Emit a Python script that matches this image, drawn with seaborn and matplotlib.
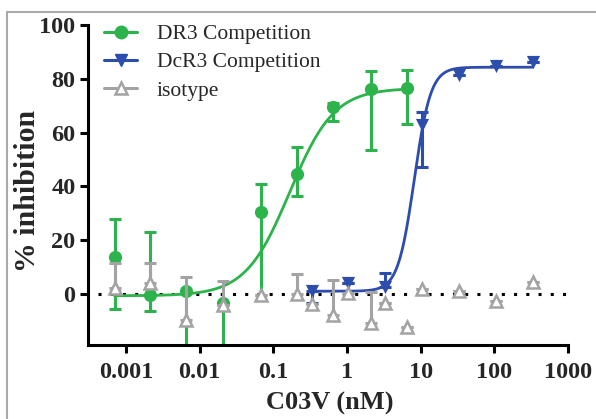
import numpy as np
import pandas as pd
import matplotlib
matplotlib.use("Agg")
import matplotlib.pyplot as plt
from matplotlib.lines import Line2D
import seaborn as sns

# ---------------- data ----------------
dr3_conc = [0.0007, 0.0021, 0.0066, 0.021, 0.068, 0.21, 0.65, 2.1, 6.5]
dr3_mean = [13.8, -0.4, 1.1, -3.4, 30.5, 44.5, 69.5, 76.3, 76.6]
dr3_err_lo = [19.4, 6.0, 25.0, 20.0, 32.7, 8.0, 5.2, 22.8, 13.4]
dr3_err_hi = [13.9, 23.6, 0.0, 0.0, 10.2, 10.1, 1.5, 6.7, 6.8]

dcr3_conc = [0.33, 1.04, 3.3, 10.4, 33, 104, 330]
dcr3_mean = [1.2, 4.0, 2.4, 62.8, 81.5, 84.9, 86.4]
dcr3_err_lo = [4.5, 0.0, 0.0, 15.7, 0.0, 0.0, 0.0]
dcr3_err_hi = [0.0, 0.0, 5.4, 4.9, 0.0, 0.0, 0.0]

iso_conc = [0.0007, 0.0021, 0.0066, 0.021, 0.068, 0.21, 0.33, 0.65, 1.04, 2.1,
            3.3, 6.5, 10.4, 33, 104, 330]
iso_mean = [2.2, 4.1, -9.7, -4.3, -0.5, -0.2, -3.6, -7.8, 0.4, -10.8,
            -3.4, -12.2, 1.9, 1.1, -2.6, 4.5]
iso_err_hi = [9.4, 7.5, 16.1, 9.2, 0.0, 7.7, 0.0, 13.0, 0.0, 11.5,
              0.0, 0.0, 0.0, 0.0, 0.0, 0.0]

# 4-parameter logistic fit parameters (bottom, top, EC50, Hill)
dr3_fit = dict(bottom=-0.7, top=76.5, ec50=0.167, hill=1.45, xmin=0.0007, xmax=6.5)
dcr3_fit = dict(bottom=1.0, top=84.3, ec50=8.2, hill=3.9, xmin=0.33, xmax=330)

xtick_vals = [0.001, 0.01, 0.1, 1, 10, 100, 1000]
xtick_labels = ["0.001", "0.01", "0.1", "1", "10", "100", "1000"]
ytick_vals = [0, 20, 40, 60, 80, 100]

legend_labels = ["DR3 Competition", "DcR3 Competition", "isotype"]

GREEN = "#2DB34B"
BLUE = "#2D4DAD"
GRAY = "#A3A3A3"

def logistic(x, p):
    return p["bottom"] + (p["top"] - p["bottom"]) / (1 + (p["ec50"] / x) ** p["hill"])

# ---------------- style ----------------
sns.set_style("ticks")
plt.rcParams["font.family"] = ["Liberation Serif", "DejaVu Serif"]

W, H = 596, 419
fig = plt.figure(figsize=(W / 100, H / 100), dpi=100)
ax = fig.add_axes([88 / W, 1 - 345 / H, (568 - 88) / W, (345 - 25) / H])

# zero reference line
ax.plot([10 ** -3.38, 1000], [0, 0], color="black", lw=2.2,
        linestyle=(0, (1, 3)), zorder=1)

ebkw = dict(fmt="none", elinewidth=2.2, capsize=4.3, capthick=2.2)

# DR3
ax.errorbar(dr3_conc, dr3_mean, yerr=[dr3_err_lo, dr3_err_hi], ecolor=GREEN, zorder=2, **ebkw)
xc = np.logspace(np.log10(dr3_fit["xmin"]), np.log10(dr3_fit["xmax"]), 300)
sns.lineplot(x=xc, y=logistic(xc, dr3_fit), color=GREEN, lw=2.0, ax=ax, zorder=3)
sns.scatterplot(x=dr3_conc, y=dr3_mean, color=GREEN, marker="o", s=90,
                edgecolor=GREEN, linewidth=0, ax=ax, zorder=4)

# DcR3
ax.errorbar(dcr3_conc, dcr3_mean, yerr=[dcr3_err_lo, dcr3_err_hi], ecolor=BLUE, zorder=2, **ebkw)
xc2 = np.logspace(np.log10(dcr3_fit["xmin"]), np.log10(dcr3_fit["xmax"]), 300)
sns.lineplot(x=xc2, y=logistic(xc2, dcr3_fit), color=BLUE, lw=2.0, ax=ax, zorder=3)
sns.scatterplot(x=dcr3_conc, y=dcr3_mean, color=BLUE, marker="v", s=90,
                edgecolor=BLUE, linewidth=0, ax=ax, zorder=4)

# isotype
ax.errorbar(iso_conc, iso_mean, yerr=[[0] * len(iso_conc), iso_err_hi], ecolor=GRAY,
            zorder=5, **ebkw)
ax.plot(iso_conc, iso_mean, linestyle="none", marker="^", markersize=9,
        markerfacecolor="white", markeredgecolor=GRAY, markeredgewidth=1.8, zorder=6)

ax.set_xscale("log")
ax.set_xlim(10 ** -3.516, 1000)
ax.set_ylim(-19, 100)
ax.set_xticks(xtick_vals)
ax.set_xticklabels(xtick_labels)
ax.set_yticks(ytick_vals)
ax.xaxis.set_minor_locator(matplotlib.ticker.NullLocator())

for sp in ["top", "right"]:
    ax.spines[sp].set_visible(False)
for sp in ["left", "bottom"]:
    ax.spines[sp].set_linewidth(2.2)
    ax.spines[sp].set_color("black")

ax.tick_params(axis="both", which="major", length=6, width=2.2, color="black",
               labelsize=17.5, direction="out")
ax.tick_params(axis="y", pad=3)
ax.tick_params(axis="x", pad=6)
for lab in ax.get_xticklabels() + ax.get_yticklabels():
    lab.set_fontweight("bold")

ax.set_xlabel("C03V (nM)", fontsize=19, fontweight="bold")
ax.xaxis.set_label_coords((330 - 88) / 480, -(403 - 345) / 320)
ax.xaxis.label.set_va("center")
ax.set_ylabel("% inhibition", fontsize=21.5, fontweight="bold")
ax.yaxis.set_label_coords((28 - 88) / 480, (345 - 191) / 320)
ax.yaxis.label.set_va("center")

handles = [
    Line2D([], [], color=GREEN, lw=2.2, marker="o", markersize=9),
    Line2D([], [], color=BLUE, lw=2.2, marker="v", markersize=9),
    Line2D([], [], color=GRAY, lw=2.2, marker="^", markersize=9,
           markerfacecolor="white", markeredgecolor=GRAY, markeredgewidth=1.8),
]
ax.legend(handles, legend_labels, loc="upper left",
          bbox_to_anchor=(104 / W, 1 - 24 / H), bbox_transform=fig.transFigure,
          frameon=False, fontsize=15.5, handlelength=1.55, handletextpad=0.9,
          labelspacing=0.38, borderpad=0, borderaxespad=0)

# outer light frame
fig.add_artist(Line2D([7 / W, 1.0], [1 - 12 / H, 1 - 12 / H], color="#AAAAAA", lw=1.5,
                      transform=fig.transFigure))
fig.add_artist(Line2D([7 / W, 7 / W], [0, 1 - 12 / H], color="#AAAAAA", lw=1.5,
                      transform=fig.transFigure))

fig.savefig("out.png", dpi=100)
